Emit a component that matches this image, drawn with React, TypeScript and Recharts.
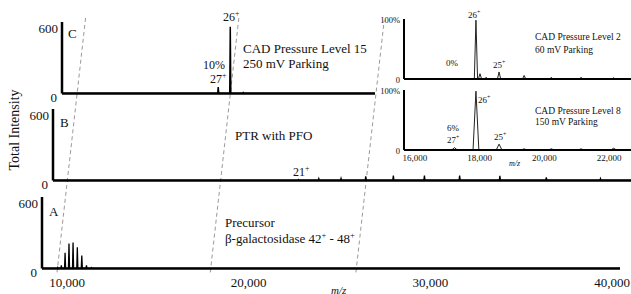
import { LineChart, Line, XAxis, YAxis, ReferenceLine } from 'recharts';

const SERIF = '"Liberation Serif", "DejaVu Serif", serif';

// [m/z, total intensity] for the three stacked spectra
const precursorPeaks = [[9490, 10], [9688, 28], [9894, 145], [10109, 230], [10333, 240], [10568, 195], [10814, 120], [11071, 28], [11341, 8]];
const ptrPeaks = [[22143, 8], [23250, 18], [24474, 20], [25833, 38], [27353, 45], [29063, 45], [31000, 45], [33214, 42], [35770, 28], [38750, 18]];
const cadPeaks = [[17222, 60], [17885, 615], [18600, 8]];

// insets, [m/z, % of 26+]
const level2Peaks = [[17885, 100], [18010, 9], [18200, 3], [18600, 12], [19375, 6], [20217, 3], [21136, 3], [22143, 2]];
const level8Peaks = [[17222, 4], [17885, 100], [18600, 10], [19375, 2], [20217, 2], [21136, 2], [22143, 3]];

const mainTicks = [10000, 20000, 30000, 40000];
const insetTicks = [16000, 18000, 20000, 22000];
const intensityTicks = [0, 600];
const percentTicks = [0, 100];

// dashed perspective guides: m/z on panel A, top depth
const guideMz = [9450, 17885, 25900];
const guideTop = [2.88, 2.88, 2.83];
const DEPTH_SHIFT = 550; // m/z shift per panel level

const MAIN_LO = 8624;
const MAIN_HI = 40430;

function toLine(peaks: number[][], hw: number, lo: number, hi: number) {
  const rows: { mz: number; i: number }[] = [{ mz: lo, i: 0 }];
  peaks.forEach(([mz, h]) => {
    rows.push({ mz: mz - hw, i: 0 }, { mz, i: h }, { mz: mz + hw, i: 0 });
  });
  rows.push({ mz: hi, i: 0 });
  return rows;
}

const fmt = (v: number) => v.toLocaleString('en-US');

function yTick(size: number, zeroDy: number, zeroDx: number, suffix: string) {
  return (p: any) => {
    const v = p.payload.value;
    return (
      <text x={p.x + (v === 0 ? zeroDx : 0)} y={p.y + (v === 0 ? zeroDy : 0)} textAnchor="end"
        dominantBaseline="central" fontSize={size} fill="#111" fontFamily={SERIF}>
        {v === 0 ? '0' : v + suffix}
      </text>
    );
  };
}

const YW = 40;
const MT = 4;
const MB = 12;

function Panel(props: any) {
  const { x0, x1, yTop, yBase, xDomain, yDomain, yTicks, data, xTicks, xFont, xGap, axisW, strokeW, tick, stroke, mr } = props;
  const right = mr || 2;
  const xh = xTicks ? 22 : 1;
  const width = YW + (x1 - x0) + right;
  const height = MT + (yBase - yTop) + xh + MB;
  return (
    <div style={{ position: 'absolute', left: x0 - YW, top: yTop - MT }}>
      <LineChart width={width} height={height} data={data} margin={{ top: MT, right, bottom: MB, left: 0 }}>
        <XAxis dataKey="mz" type="number" domain={xDomain} allowDataOverflow
          ticks={xTicks || []} interval={0} tickFormatter={fmt}
          tick={xTicks ? { fontSize: xFont, fill: '#111', fontFamily: SERIF } : false}
          tickLine={false} tickSize={0} tickMargin={xGap || 0} height={xh}
          axisLine={{ stroke: '#000', strokeWidth: axisW }} />
        <YAxis type="number" domain={yDomain} allowDataOverflow ticks={yTicks} interval={0}
          width={YW} tickLine={false} tickSize={0} tickMargin={4} tick={tick}
          axisLine={{ stroke: '#000', strokeWidth: axisW }} />
        <Line dataKey="i" type="linear" dot={false} activeDot={false} stroke={stroke || '#000'} strokeWidth={strokeW}
          isAnimationActive={false} />
      </LineChart>
    </div>
  );
}

function T({ x, y, s, children, it }: any) {
  return (
    <div style={{ position: 'absolute', left: x, top: y - s / 2, fontSize: s, lineHeight: `${s}px`,
      whiteSpace: 'nowrap', color: '#111', fontStyle: it ? 'italic' : 'normal' }}>
      {children}
    </div>
  );
}

const Sup = ({ children }: any) => (
  <span style={{ fontSize: '0.65em', verticalAlign: 'super', lineHeight: 0 }}>{children}</span>
);

export default function App() {
  const guides = guideMz.map((m, k) => [
    { x: m, y: -0.05 },
    { x: m + DEPTH_SHIFT * guideTop[k], y: guideTop[k] },
  ]);
  const guideRows = guides.flat();
  const mainTick = yTick(13, 4, -1, '');
  const insetTick = yTick(8.5, 1, 0, '%');

  return (
    <div style={{ position: 'fixed', left: 0, top: 0, width: 631, height: 294, overflow: 'hidden',
      background: '#fff', fontFamily: SERIF }}>
      <div style={{ position: 'absolute', left: 0, top: 0 }}>
        <LineChart width={631} height={294} data={guideRows} margin={{ top: 0, right: 0, bottom: 0, left: 0 }}>
          <XAxis dataKey="x" type="number" domain={[6312, 41040]} hide allowDataOverflow />
          <YAxis type="number" domain={[-0.297, 3.063]} hide allowDataOverflow />
          {guides.map((g, k) => (
            <ReferenceLine key={k} segment={g} stroke="#9a9a9a" strokeWidth={1}
              strokeDasharray="4 3" ifOverflow="visible" />
          ))}
        </LineChart>
      </div>

      <Panel x0={42} x1={620} yTop={196.5} yBase={268} xDomain={[MAIN_LO, MAIN_HI]} yDomain={[0, 660]}
        yTicks={intensityTicks} data={toLine(precursorPeaks, 30, MAIN_LO, MAIN_HI)} xTicks={mainTicks}
        xFont={13} xGap={9} axisW={2.5} strokeW={1.3} tick={mainTick} mr={11} />
      <Panel x0={53} x1={631} yTop={108.5} yBase={180} xDomain={[MAIN_LO, MAIN_HI]} yDomain={[0, 660]}
        yTicks={intensityTicks} data={toLine(ptrPeaks, 35, MAIN_LO, MAIN_HI)} axisW={2.5} strokeW={1.3} tick={mainTick} />
      <Panel x0={62} x1={375} yTop={21.5} yBase={93} xDomain={[MAIN_LO, 25850]} yDomain={[0, 660]}
        yTicks={intensityTicks} data={toLine(cadPeaks, 30, MAIN_LO, 25850)} axisW={2.5} strokeW={1.5} tick={mainTick} />

      <Panel x0={404} x1={631} yTop={19} yBase={79} xDomain={[15660, 22680]} yDomain={[0, 102]}
        yTicks={percentTicks} data={toLine(level2Peaks, 50, 15660, 22680)} axisW={2} strokeW={1} stroke="#222" tick={insetTick} />
      <Panel x0={404} x1={631} yTop={90} yBase={150} xDomain={[15660, 22680]} yDomain={[0, 102]}
        yTicks={percentTicks} data={toLine(level8Peaks, 90, 15660, 22680)} xTicks={insetTicks}
        xFont={9} xGap={5} axisW={2} strokeW={1} stroke="#222" tick={insetTick} />

      <T x={49} y={211} s={13}>A</T>
      <T x={60} y={122} s={13}>B</T>
      <T x={68} y={33} s={13}>C</T>
      <T x={223} y={17} s={12}>26<Sup>+</Sup></T>
      <T x={203} y={65} s={12}>10%</T>
      <T x={210} y={79} s={12}>27<Sup>+</Sup></T>
      <T x={243} y={48} s={13}>CAD Pressure Level 15</T>
      <T x={243} y={63} s={13}>250 mV Parking</T>
      <T x={235} y={135} s={13}>PTR with PFO</T>
      <T x={293} y={172} s={12}>21<Sup>+</Sup></T>
      <T x={225} y={222} s={13}>Precursor</T>
      <T x={225} y={238} s={13}>β-galactosidase 42<Sup>+</Sup> - 48<Sup>+</Sup></T>
      <T x={331} y={290} s={11} it>m/z</T>

      <T x={468} y={15} s={9}>26<Sup>+</Sup></T>
      <T x={446} y={63} s={9}>0%</T>
      <T x={493} y={65} s={9}>25<Sup>+</Sup></T>
      <T x={535} y={38} s={9.5}>CAD Pressure Level 2</T>
      <T x={535} y={51} s={9.5}>60 mV Parking</T>
      <T x={478} y={100} s={9}>26<Sup>+</Sup></T>
      <T x={447} y={128} s={9}>6%</T>
      <T x={447} y={140} s={9}>27<Sup>+</Sup></T>
      <T x={494} y={137} s={9}>25<Sup>+</Sup></T>
      <T x={535} y={112} s={9.5}>CAD Pressure Level 8</T>
      <T x={535} y={123} s={9.5}>150 mV Parking</T>
      <T x={509} y={164} s={8} it>m/z</T>

      <div style={{ position: 'absolute', left: 15 - 60, top: 130 - 9, width: 120, height: 18,
        lineHeight: '18px', fontSize: 14, textAlign: 'center', color: '#111', transform: 'rotate(-90deg)' }}>
        Total Intensity
      </div>
    </div>
  );
}
